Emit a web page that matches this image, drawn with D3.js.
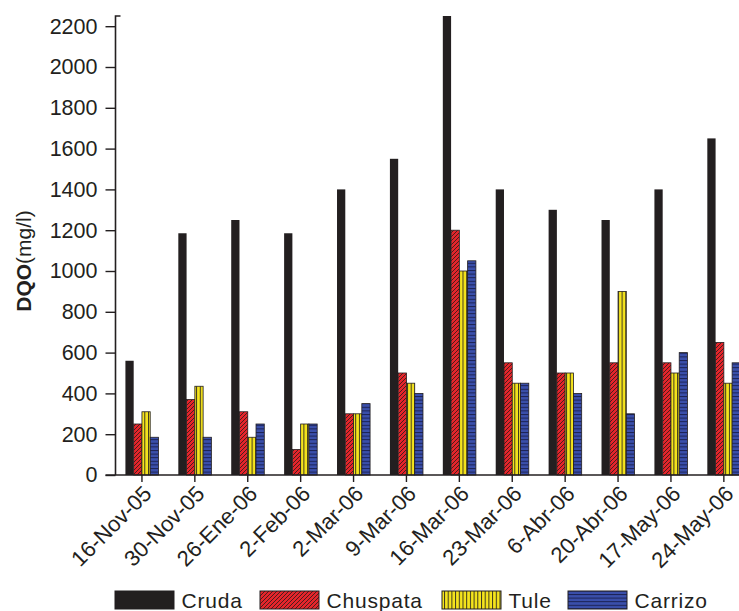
<!DOCTYPE html>
<html><head><meta charset="utf-8">
<script src="https://cdn.jsdelivr.net/npm/d3@7"></script>
<style>
html,body{margin:0;padding:0;background:#fff;overflow:hidden}
svg{display:block;font-family:"Liberation Sans",Arial,sans-serif}
</style></head>
<body>
<svg id="chart" width="739" height="611"></svg>
<script>
const categories = ["16-Nov-05","30-Nov-05","26-Ene-06","2-Feb-06","2-Mar-06","9-Mar-06","16-Mar-06","23-Mar-06","6-Abr-06","20-Abr-06","17-May-06","24-May-06"];
const seriesNames = ["Cruda","Chuspata","Tule","Carrizo"];
const cruda    = [560,1185,1250,1185,1400,1550,2250,1400,1300,1250,1400,1650];
const chuspata = [250, 370, 310, 125, 300, 500,1200, 550, 500, 550, 550, 650];
const tule     = [310, 435, 185, 250, 300, 450,1000, 450, 500, 900, 500, 450];
const carrizo  = [185, 185, 250, 250, 350, 400,1050, 450, 400, 300, 600, 550];
const yTicks = [0,200,400,600,800,1000,1200,1400,1600,1800,2000,2200];

const seriesValues = [cruda, chuspata, tule, carrizo];
const fills = ["#231f20","url(#pChuspata)","url(#pTule)","url(#pCarrizo)"];

const svg = d3.select("#chart");
const defs = svg.append("defs");
// Chuspata: red with diagonal hatch
const p1 = defs.append("pattern").attr("id","pChuspata").attr("patternUnits","userSpaceOnUse")
  .attr("width",4).attr("height",4);
p1.append("rect").attr("width",4).attr("height",4).attr("fill","#e5252b");
p1.append("path").attr("d","M-1,1 l2,-2 M0,4 l4,-4 M3,5 l2,-2").attr("stroke","#3a1c1c").attr("stroke-width",0.9);
// Tule: yellow with vertical lines
const p2 = defs.append("pattern").attr("id","pTule").attr("patternUnits","userSpaceOnUse")
  .attr("width",3.7).attr("height",4);
p2.append("rect").attr("width",3.7).attr("height",4).attr("fill","#f5e41c");
p2.append("line").attr("x1",0.5).attr("x2",0.5).attr("y1",0).attr("y2",4).attr("stroke","#3b3520").attr("stroke-width",1);
// Carrizo: blue with horizontal lines
const p3 = defs.append("pattern").attr("id","pCarrizo").attr("patternUnits","userSpaceOnUse")
  .attr("width",4).attr("height",3.6);
p3.append("rect").attr("width",4).attr("height",3.6).attr("fill","#3a4fab");
p3.append("line").attr("x1",0).attr("x2",4).attr("y1",0.5).attr("y2",0.5).attr("stroke","#1b2254").attr("stroke-width",1);

const plotLeft = 115.5, plotBottom = 475, plotTop = 16;
const x = d3.scaleBand().domain(categories).range([plotLeft, plotLeft + 12*52.9]).padding(0);
const y = d3.scaleLinear().domain([0,2250]).range([plotBottom, plotTop]);
const groupW = x.bandwidth()*0.625;
const xi = d3.scaleBand().domain(seriesNames).range([0, groupW]).padding(0);

// bars
seriesNames.forEach((s, si) => {
  svg.append("g").selectAll("rect").data(seriesValues[si]).join("rect")
    .attr("x",(d,i)=> x(categories[i]) + x.bandwidth()/2 - groupW/2 + xi(s))
    .attr("y", d=>y(d))
    .attr("width", xi.bandwidth())
    .attr("height", d=> plotBottom - y(d))
    .attr("fill", fills[si])
    .attr("stroke", "#231f20").attr("stroke-width", si===0?0:0.8);
});

const axisColor = "#231f20";
const fontFam = "Liberation Sans, Arial, sans-serif";
// y axis
const yAxis = svg.append("g").attr("transform",`translate(${plotLeft},0)`)
  .call(d3.axisLeft(y).tickValues(yTicks).tickFormat(d3.format("d")).tickSize(10).tickPadding(8).tickSizeOuter(0));
yAxis.attr("font-size",21.5).attr("font-family",fontFam);
yAxis.select(".domain").attr("stroke",axisColor).attr("stroke-width",1.6)
  .attr("d",`M0,${plotBottom}V${plotTop}H5`);
yAxis.selectAll(".tick line").attr("stroke",axisColor).attr("stroke-width",1.4);
yAxis.selectAll(".tick text").attr("fill","#231f20");

// x axis
const xAxis = svg.append("g").attr("transform",`translate(0,${plotBottom})`)
  .call(d3.axisBottom(x).tickSize(7).tickSizeOuter(0));
xAxis.attr("font-size",22).attr("font-family",fontFam);
xAxis.select(".domain").attr("stroke",axisColor).attr("stroke-width",1.6)
  .attr("d",`M${plotLeft-10},0H739`);
xAxis.selectAll(".tick line").attr("stroke",axisColor).attr("stroke-width",1.4);
xAxis.selectAll(".tick text")
  .attr("fill","#231f20")
  .attr("text-anchor","end")
  .attr("dy",0).attr("y",0)
  .attr("transform","translate(11,20) rotate(-45)");

// y title
const yt = svg.append("text").attr("transform",`translate(31,261) rotate(-90)`)
  .attr("text-anchor","middle").attr("font-size",21).attr("fill","#231f20");
yt.append("tspan").attr("font-weight","bold").text("DQO");
yt.append("tspan").text("(mg/l)");

// legend
const legX = [115, 260, 442, 568];
const lg = svg.append("g");
seriesNames.forEach((s, si) => {
  lg.append("rect").attr("x",legX[si]).attr("y",591).attr("width",59).attr("height",18)
    .attr("fill",fills[si]).attr("stroke","#231f20").attr("stroke-width",1);
  lg.append("text").attr("x",legX[si]+66.5).attr("y",608).attr("font-size",21)
    .attr("fill","#231f20").attr("letter-spacing",0.8).text(s);
});
</script>
</body></html>
